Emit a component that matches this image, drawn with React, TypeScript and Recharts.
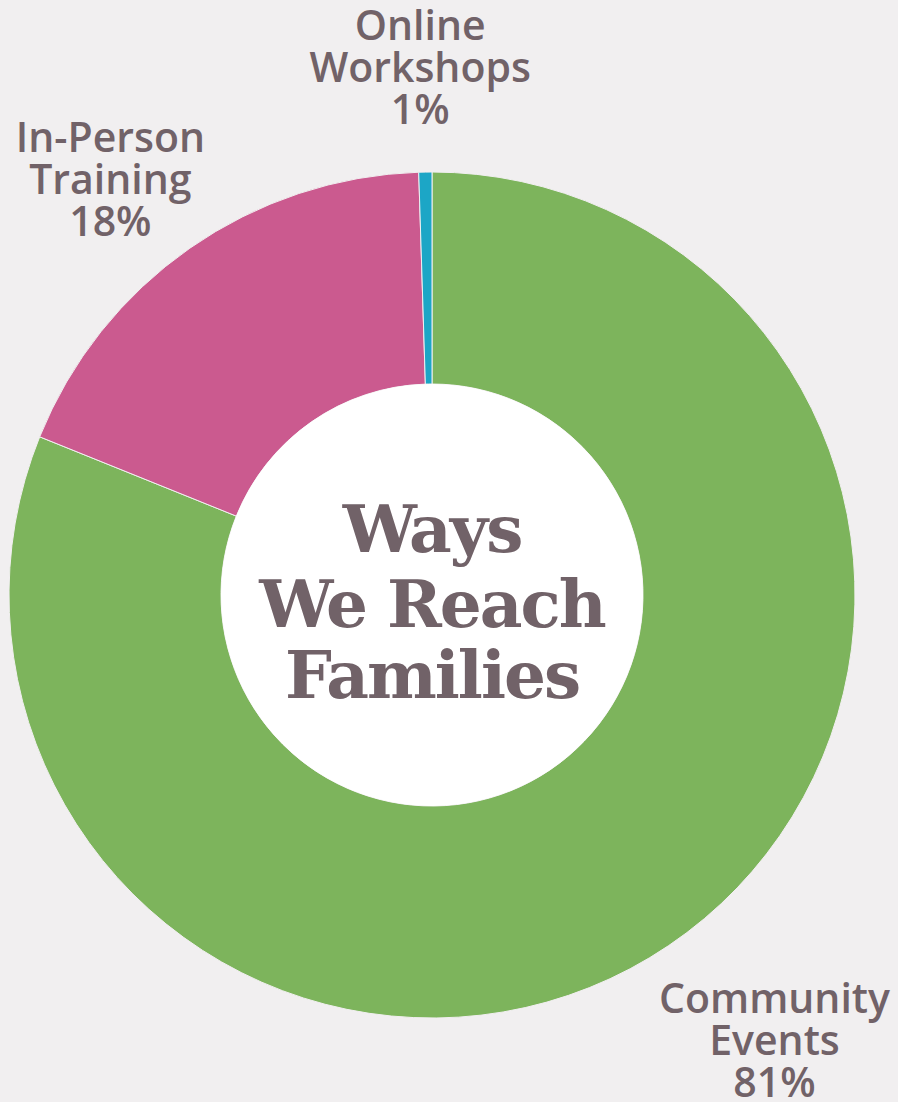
import React from "react";
import { Cell, Pie, PieChart } from "recharts";

const categories = ["Community Events", "In-Person Training", "Online Workshops"];
const nameLines = [
  ["Community", "Events"],
  ["In-Person", "Training"],
  ["Online", "Workshops"],
];
const shares = [81.1, 18.4, 0.5];
const shareLabels = ["81%", "18%", "1%"];
const sliceColors = ["#7db45c", "#cb5a8f", "#1ca6c6"];
const titleLines = ["Ways", "We Reach", "Families"];

const BG = "#f1eff0";
const INK = "#716268";

const data = categories.map((name, i) => ({
  name,
  value: shares[i],
  lines: nameLines[i],
  pct: shareLabels[i],
}));

const centerData = [{ name: "center", value: 1 }];

const RAD = Math.PI / 180;

// labels ride a slightly skewed ellipse around the ring, along each slice's mid angle
function SliceLabel(props: any) {
  const { cx, cy, midAngle, index } = props;
  const c = Math.cos(-midAngle * RAD);
  const s = Math.sin(-midAngle * RAD);
  const x = cx + 14 + 562 * c + 17 * s;
  const y = cy + 13 + 541 * s - 28 * c;
  const item = data[index];
  const rows = [...item.lines, item.pct];
  return (
    <text
      textAnchor="middle"
      fill={INK}
      style={{ fontFamily: "'Open Sans', sans-serif", fontWeight: 600, fontSize: 41 }}
    >
      {rows.map((row, i) => (
        <tspan key={row} x={x} y={y - 28 + i * 42}>
          {row}
        </tspan>
      ))}
    </text>
  );
}

function CenterTitle(props: any) {
  const { cx, cy } = props;
  const offsets = [-43, 32, 103];
  return (
    <text
      textAnchor="middle"
      fill={INK}
      style={{ fontFamily: "'DejaVu Serif', serif", fontWeight: 700, fontSize: 66, letterSpacing: -2 }}
    >
      {titleLines.map((row, i) => (
        <tspan key={row} x={cx} y={cy + offsets[i]}>
          {row}
        </tspan>
      ))}
    </text>
  );
}

export default function App() {
  return (
    <div
      style={{
        position: "absolute",
        left: 0,
        top: 0,
        width: 898,
        height: 1102,
        background: BG,
      }}
    >
      <PieChart width={898} height={1102} margin={{ top: 0, right: 0, bottom: 0, left: 0 }}>
        <Pie
          data={data}
          dataKey="value"
          nameKey="name"
          cx={432}
          cy={595}
          innerRadius={211}
          outerRadius={423}
          startAngle={90}
          endAngle={-270}
          stroke={BG}
          strokeWidth={1}
          label={SliceLabel}
          labelLine={false}
          isAnimationActive={false}
        >
          {data.map((d, i) => (
            <Cell key={d.name} fill={sliceColors[i]} />
          ))}
        </Pie>
        <Pie
          data={centerData}
          dataKey="value"
          cx={432}
          cy={595}
          innerRadius={0}
          outerRadius={211}
          fill="#ffffff"
          stroke="none"
          label={CenterTitle}
          labelLine={false}
          isAnimationActive={false}
        />
      </PieChart>
    </div>
  );
}
